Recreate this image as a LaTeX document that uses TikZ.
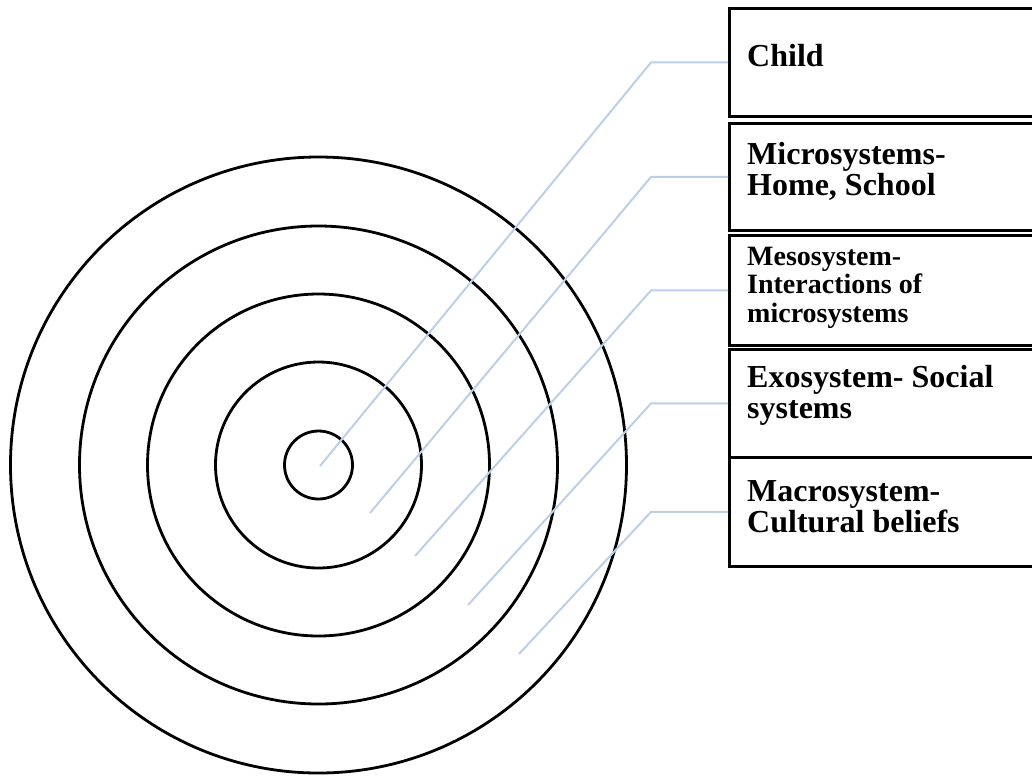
\documentclass[tikz,border=0pt]{standalone}
\usepackage{fontspec}
\setmainfont{Liberation Serif}
\usepackage{tikz}
\usetikzlibrary{positioning,calc}

\definecolor{leadblue}{RGB}{189,207,232}

\begin{document}
\begin{tikzpicture}[x=1pt, y=-1pt,
    ring/.style={draw=black, line width=2.8pt},
    box/.style={rectangle, draw=black, line width=2.8pt, anchor=north west,
                minimum width=330pt, inner sep=0pt},
    lbl/.style={anchor=base west, align=left, inner sep=0pt,
                font=\bfseries\fontsize{32}{31}\selectfont},
    leader/.style={draw=leadblue, line width=2pt}
]
    \clip (0,0) rectangle (1032,777);
    \useasboundingbox (0,0) rectangle (1032,777);

    % rings
    \coordinate (ctr) at (318.5,465);
    \foreach \r in {34,103,171,239,308}
        \draw[ring] (ctr) circle[radius=\r pt];

    % boxes on the right
    \node[box, minimum height=108pt] (child) at (728,7) {};
    \node[box, minimum height=107pt] (micro) at (728,122) {};
    \node[box, minimum height=110pt] (meso) at (728,234) {};
    \node[box, minimum height=108pt] (exo) at (728,348) {};
    \node[box, minimum height=109pt] (macro) at (728,456) {};

    % texts (anchored at the last baseline)
    \node[lbl] (childtxt) at (747,66) {Child};
    \node[lbl] (microtxt) at (747,195) {Microsystems-\\Home, School};
    \node[lbl, font=\bfseries\fontsize{28}{28.5}\selectfont] (mesotxt) at (747,322)
        {Mesosystem-\\Interactions of\\microsystems};
    \node[lbl] (exotxt) at (747,418) {Exosystem- Social\\systems};
    \node[lbl] (macrotxt) at (747,532) {Macrosystem-\\Cultural beliefs};

    % leader lines
    \coordinate (bend) at (651,0);
    \coordinate (p1) at (320,466);
    \coordinate (p2) at (370,513);
    \coordinate (p3) at (415,556);
    \coordinate (p4) at (468,605);
    \coordinate (p5) at (519,654);

    \draw[leader] (p1) -- (child.west -| bend) -- (child.west);
    \draw[leader] (p2) -- (micro.west -| bend) -- (micro.west);
    \draw[leader] (p3) -- (meso.west -| bend) -- (meso.west);
    \draw[leader] (p4) -- (exo.west -| bend) -- (exo.west);
    \draw[leader] (p5) -- (macro.west -| bend) -- (macro.west);
\end{tikzpicture}
\end{document}
